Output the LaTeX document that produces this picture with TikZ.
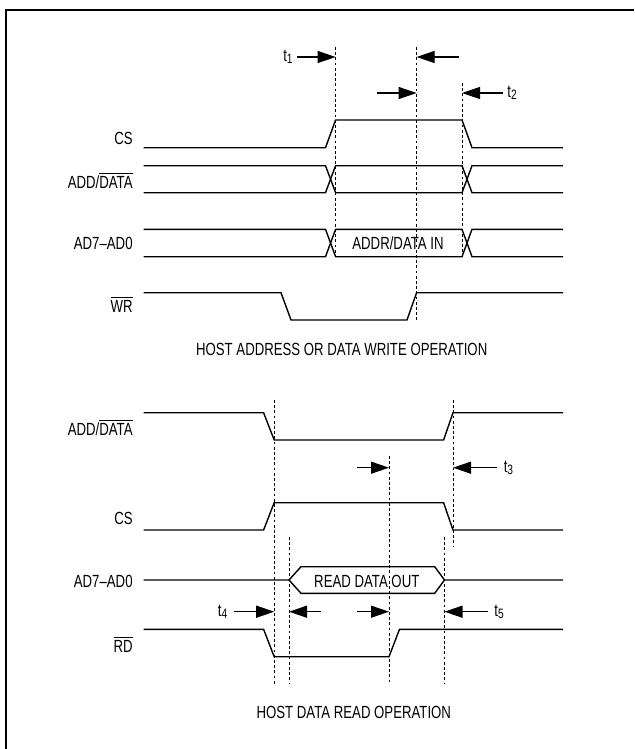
\documentclass[tikz,border=0pt]{standalone}
\usepackage{fontspec}
\setmainfont{Liberation Sans}[FakeStretch=0.75]
\usetikzlibrary{arrows.meta}

\newcommand{\lowact}[1]{$\overline{\mbox{#1}}$}
\newcommand{\tsub}[1]{t\raisebox{-1.3pt}{\fontsize{6.8}{7}\selectfont #1}}

\begin{document}
\begin{tikzpicture}[
			x=0.5pt, y=-0.5pt,
			every node/.style={font=\fontsize{8.8}{10}\selectfont, inner sep=0pt},
			sig/.style={line width=0.7pt, line join=miter},
			guide/.style={line width=0.45pt, dash pattern=on 1.4pt off 1.2pt},
			timing/.style={line width=0.6pt, -{Triangle[length=9pt,width=6pt]}},
			lbl/.style={anchor=base east},
			title/.style={anchor=base}
			]
			\useasboundingbox (0,0) rectangle (634,749);
			\draw[line width=1.1pt] (6,749) -- (6,10) -- (634,10);
			
			% Host address or data write operation
			\node[lbl] (wcs) at (133,144.5) {CS};
			\node[lbl] (wadd) at (133,188.8) {ADD/\lowact{DATA}};
			\node[lbl] (wad) at (133,249.8) {AD7--AD0};
			\node[lbl] (wwr) at (133,312) {\lowact{WR}};
			
			\draw[sig] (143.5,147.7) -- (325.5,147.7) -- (335.6,120) -- (462,120) -- (472,147.7) -- (563,147.7);
			\foreach \ya/\yb in {165.7/192.7, 229.3/256.7} {
				\draw[sig] (143.5,\ya) -- (325.5,\ya) -- (335.6,\yb) -- (462,\yb) -- (472,\ya) -- (563,\ya);
				\draw[sig] (143.5,\yb) -- (325.5,\yb) -- (335.6,\ya) -- (462,\ya) -- (472,\yb) -- (563,\yb);
			}
			\draw[sig] (143.5,292.7) -- (281,292.7) -- (291,320) -- (407,320) -- (416.6,292.7) -- (563,292.7);
			\node[title] (win) at (398,249.8) {ADDR/DATA IN};
			
			\coordinate (w1) at (335.6,47);
			\coordinate (w2) at (416.6,47);
			\coordinate (w3) at (462,83);
			\draw[guide] (w1) -- (w1 |- 0,257);
			\draw[guide] (w2) -- (w2 |- 0,322);
			\draw[guide] (w3) -- (w3 |- 0,257);
			
			\coordinate (a1) at (297,57);
			\coordinate (a2) at (459,57);
			\coordinate (a3) at (377,93);
			\coordinate (a4) at (503,93);
			\draw[timing] (a1) -- (a1 -| w1);
			\draw[timing] (a2) -- (a2 -| w2);
			\draw[timing] (a3) -- (a3 -| w2);
			\draw[timing] (a4) -- (a4 -| w3);
			\node[left=2pt] (t1) at (a1) {\tsub{1}};
			\node[right=2pt] (t2) at (a4) {\tsub{2}};
			
			\node[title] (wcap) at (341.7,355) {HOST ADDRESS OR DATA WRITE OPERATION};
			
			% Host data read operation
			\node[lbl] (radd) at (133,435.5) {ADD/\lowact{DATA}};
			\node[lbl] (rcs) at (133,524.8) {CS};
			\node[lbl] (rad) at (133,587) {AD7--AD0};
			\node[lbl] (rrd) at (133,652) {\lowact{RD}};
			
			\draw[sig] (143.5,412.7) -- (263.6,412.7) -- (274.2,440) -- (443.6,440) -- (453,412.7) -- (563,412.7);
			\draw[sig] (143.5,530) -- (263.6,530) -- (274.2,502.7) -- (443.6,502.7) -- (453,530) -- (563,530);
			\draw[sig] (143.5,580) -- (289,580) -- (301,566.7) -- (434.7,566.7) -- (444.5,580) -- (563,580);
			\draw[sig] (289,580) -- (301,593.3) -- (434.7,593.3) -- (444.5,580);
			\draw[sig] (143.5,629.3) -- (263.6,629.3) -- (274.2,656.7) -- (389,656.7) -- (399.5,629.3) -- (563,629.3);
			\node[title] (rout) at (366.8,587) {READ DATA OUT};
			
			\coordinate (r1) at (274.2,400);
			\coordinate (r2) at (453,400);
			\coordinate (r3) at (389,456);
			\coordinate (r4) at (289,537);
			\coordinate (r5) at (444.5,537);
			\draw[guide] (r1) -- (r1 |- 0,684);
			\draw[guide] (r2) -- (r2 |- 0,547);
			\draw[guide] (r3) -- (r3 |- 0,684);
			\draw[guide] (r4) -- (r4 |- 0,684);
			\draw[guide] (r5) -- (r5 |- 0,684);
			
			\coordinate (b1) at (357,467.7);
			\coordinate (b2) at (497.4,467.7);
			\coordinate (b3) at (233.7,611.7);
			\coordinate (b4) at (320.7,611.7);
			\coordinate (b5) at (357,611.7);
			\coordinate (b6) at (488,611.7);
			\draw[timing] (b1) -- (b1 -| r3);
			\draw[timing] (b2) -- (b2 -| r2);
			\draw[timing] (b3) -- (b3 -| r1);
			\draw[timing] (b4) -- (b4 -| r4);
			\draw[timing] (b5) -- (b5 -| r3);
			\draw[timing] (b6) -- (b6 -| r5);
			\node[right=3pt] (t3) at (b2) {\tsub{3}};
			\node[left=3pt] (t4) at (b3) {\tsub{4}};
			\node[right=3pt] (t5) at (b6) {\tsub{5}};
			
			\node[title] (rcap) at (353.8,718.3) {HOST DATA READ OPERATION};
		\end{tikzpicture}
\end{document}
